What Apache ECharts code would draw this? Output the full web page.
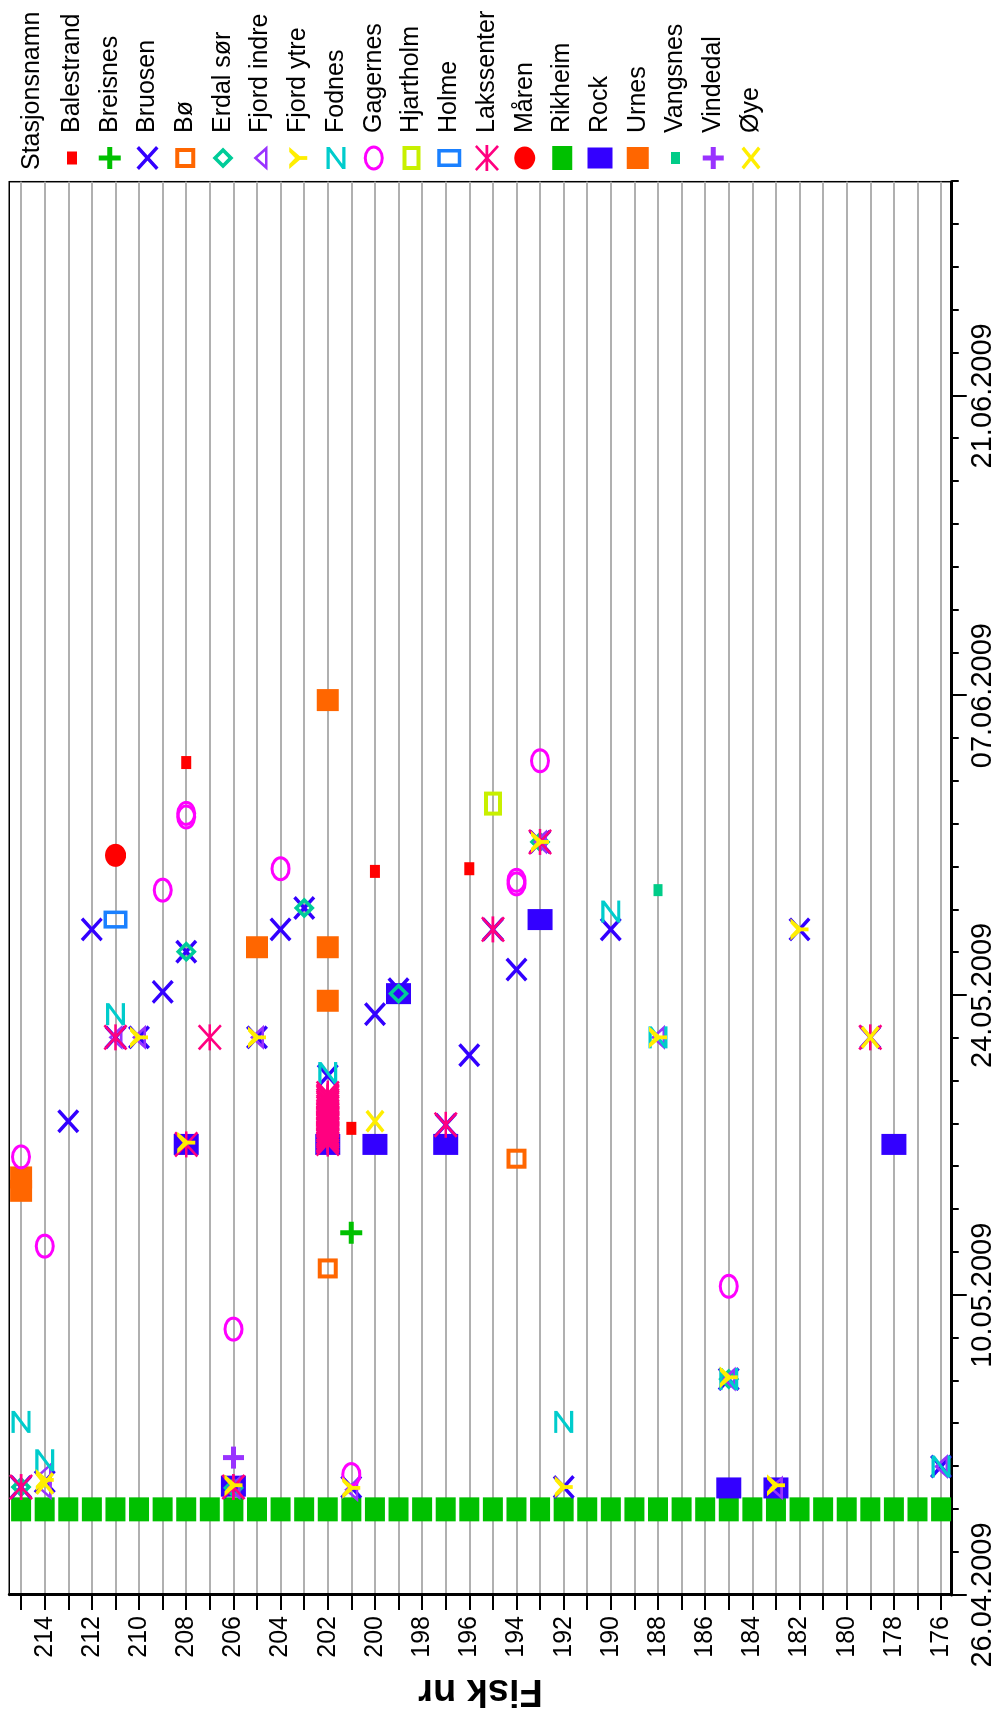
<!DOCTYPE html>
<html><head><meta charset="utf-8">
<script src="https://cdn.jsdelivr.net/npm/echarts@6/dist/echarts.min.js"></script>
<style>
html,body{margin:0;padding:0;background:#fff;overflow:hidden;width:1004px;height:1717px;}
#chart{position:absolute;left:0;top:0;width:1717px;height:1004px;transform-origin:0 0;transform:translateY(1717px) rotate(-90deg);background:#fff;}
</style></head><body><div id="chart"></div>
<script>
// ---------- DATA ----------
const stations = ['Balestrand','Breisnes','Bruosen','Bø','Erdal sør','Fjord indre','Fjord ytre','Fodnes','Gagernes','Hjartholm','Holme','Lakssenter','Måren','Rikheim','Rock','Urnes','Vangsnes','Vindedal','Øye'];
const dateTickLabels = ['2009-04-26 00:00','2009-05-10 00:00','2009-05-24 00:00','2009-06-07 00:00','2009-06-21 00:00'];
const dateMin = '2009-04-26 00:00';
const dateMax = '2009-07-01 00:00';
const fishTickLabels = [176,178,180,182,184,186,188,190,192,194,196,198,200,202,204,206,208,210,212,214];
const fishTicks = [176,177,178,179,180,181,182,183,184,185,186,187,188,189,190,191,192,193,194,195,196,197,198,199,200,201,202,203,204,205,206,207,208,209,210,211,212,213,214,215];

const balestrand = [['2009-06-03 21:00',208],['2009-05-29 19:00',200],['2009-05-29 22:00',196],['2009-05-17 19:00',201]];
const breisnes = [['2009-05-12 22:00',201]];
const bruosen = [['2009-05-01 01:00',215],['2009-05-01 07:00',214],['2009-05-01 01:00',206],['2009-05-01 01:00',201],['2009-05-01 01:00',192],['2009-05-02 00:00',176],['2009-05-06 02:00',185],
 ['2009-05-18 03:00',213],['2009-05-20 06:00',202],['2009-05-23 03:00',200],['2009-05-24 07:00',199],['2009-05-17 23:00',197],['2009-05-21 05:00',196],['2009-05-25 05:00',194],
 ['2009-05-22 01:00',179],['2009-05-22 01:00',211],['2009-05-22 01:00',210],['2009-05-22 01:00',205],['2009-05-24 04:00',209],['2009-05-26 01:00',208],['2009-05-28 02:00',203],
 ['2009-05-27 02:00',212],['2009-05-27 02:00',204],['2009-05-27 02:00',195],['2009-05-27 02:00',190],['2009-05-27 02:00',182],['2009-05-31 04:00',193]];
const bo = [['2009-05-11 06:00',202],['2009-05-16 09:00',194]];
const erdalSor = [['2009-05-01 01:00',215],['2009-05-01 00:00',206],['2009-05-06 02:00',185],['2009-05-26 01:00',208],['2009-05-28 02:00',203],['2009-05-24 02:00',199],['2009-05-31 04:00',193]];
const fjordIndre = [['2009-05-01 00:00',214],['2009-05-01 15:00',214],['2009-05-01 00:00',206],['2009-04-30 22:00',201],['2009-05-01 00:00',183],['2009-05-02 00:00',176],['2009-05-06 02:00',185],
 ['2009-05-22 01:00',211],['2009-05-22 01:00',210],['2009-05-22 01:00',205],['2009-05-22 01:00',188],['2009-05-31 04:00',193]];
const fjordYtre = [['2009-05-01 09:00',214],['2009-05-01 03:00',206],['2009-05-01 00:00',201],['2009-05-01 01:00',192],['2009-05-01 03:00',183],['2009-05-06 04:00',185],
 ['2009-05-22 01:00',210],['2009-05-22 01:00',205],['2009-05-22 01:00',188],['2009-05-17 03:00',208],['2009-05-31 04:00',193],['2009-05-27 02:00',182]];
const fodnes = [['2009-05-04 02:00',215],['2009-05-02 07:00',214],['2009-05-04 02:00',192],['2009-05-02 00:00',176],['2009-05-23 03:00',211],['2009-05-20 09:00',202],['2009-05-27 22:00',190],['2009-05-22 01:00',188],['2009-05-06 02:00',185]];
const gagernes = [['2009-05-16 11:00',215],['2009-05-12 07:00',214],['2009-05-08 10:00',206],['2009-05-10 10:00',185],['2009-05-01 15:00',201],['2009-06-01 08:00',208],['2009-06-01 12:00',208],
 ['2009-05-28 22:00',209],['2009-05-29 22:00',204],['2009-05-29 05:00',194],['2009-05-29 09:00',194],['2009-06-03 23:00',193]];
const hjartholm = [['2009-06-01 23:00',195]];
const holme = [['2009-05-27 13:00',211]];
const lakssenter = [['2009-05-01 01:00',215],['2009-05-01 01:00',206],['2009-05-17 01:00',208],['2009-05-17 23:00',197],['2009-05-22 01:00',211],['2009-05-22 01:00',207],['2009-05-22 01:00',179],['2009-05-27 02:00',195],['2009-05-31 04:00',193],
 ['2009-05-17 02:00',202],['2009-05-17 05:00',202],['2009-05-17 07:00',202],['2009-05-17 10:00',202],['2009-05-17 12:00',202],['2009-05-17 14:00',202],['2009-05-17 17:00',202],['2009-05-17 19:00',202],['2009-05-17 22:00',202],
 ['2009-05-18 00:00',202],['2009-05-18 02:00',202],['2009-05-18 05:00',202],['2009-05-18 07:00',202],['2009-05-18 10:00',202],['2009-05-18 12:00',202],['2009-05-18 14:00',202],['2009-05-18 17:00',202],
 ['2009-05-18 19:00',202],['2009-05-18 22:00',202],['2009-05-19 00:00',202],['2009-05-19 02:00',202],['2009-05-19 05:00',202],['2009-05-19 07:00',202],['2009-05-19 10:00',202]];
const maren = [['2009-05-30 13:00',211]];
const rikheimDate = '2009-04-30 00:00';
const rikheimFish = [215,214,213,212,211,210,209,208,207,206,205,204,203,202,201,200,199,198,197,196,195,194,193,192,191,190,189,188,187,186,185,184,183,182,181,180,179,178,177,176];
const rock = [['2009-05-01 02:00',206],['2009-05-01 00:00',185],['2009-05-01 00:00',183],['2009-05-17 01:00',208],['2009-05-17 01:00',202],['2009-05-17 01:00',200],['2009-05-17 01:00',197],['2009-05-17 01:00',178],['2009-05-24 02:00',199],['2009-05-27 13:00',193]];
const urnes = [['2009-05-14 21:00',215],['2009-05-15 12:00',215],['2009-05-23 18:00',202],['2009-05-26 06:00',205],['2009-05-26 06:00',202],['2009-06-06 19:00',202]];
const vangsnes = [['2009-05-28 22:00',188]];
const vindedal = [['2009-05-02 10:00',206]];
const oye = [['2009-05-18 03:00',200],['2009-05-22 01:00',179],['2009-05-01 05:00',214]];

const stationData = {
  'Balestrand': balestrand, 'Breisnes': breisnes, 'Bruosen': bruosen, 'Bø': bo, 'Erdal sør': erdalSor,
  'Fjord indre': fjordIndre, 'Fjord ytre': fjordYtre, 'Fodnes': fodnes, 'Gagernes': gagernes, 'Hjartholm': hjartholm,
  'Holme': holme, 'Lakssenter': lakssenter, 'Måren': maren, 'Rikheim': rikheimFish.map(f => [rikheimDate, f]),
  'Rock': rock, 'Urnes': urnes, 'Vangsnes': vangsnes, 'Vindedal': vindedal, 'Øye': oye
};

// ---------- helpers ----------
function parseD(s){ return Date.UTC(+s.slice(0,4), +s.slice(5,7)-1, +s.slice(8,10), +s.slice(11,13), +s.slice(14,16)); }
const BASE = parseD(dateMin);
function toDay(s){ return (parseD(s) - BASE) / 86400000; }
function fmtDay(v){ const d = new Date(BASE + Math.round(v*86400000)); const p = n => String(n).padStart(2,'0'); return p(d.getUTCDate())+'.'+p(d.getUTCMonth()+1)+'.'+d.getUTCFullYear(); }

// ---------- symbol shapes (style) ----------
const f = n => Math.round(n*100)/100;
function rectP(x,y,w,h){ return `M${f(x)} ${f(y)}H${f(x+w)}V${f(y+h)}H${f(x)}Z`; }
function ringRect(x,y,w,h,t){ return rectP(x,y,w,h) + `M${f(x+t)} ${f(y+t)}V${f(y+h-t)}H${f(x+w-t)}V${f(y+t)}Z`; }
function ell(x,y,w,h,inv){ const rx=w/2, ry=h/2, cx=x+rx, cy=y+ry, s = inv?1:0;
  return `M${f(cx-rx)} ${f(cy)}A${f(rx)} ${f(ry)} 0 1 ${s} ${f(cx+rx)} ${f(cy)}A${f(rx)} ${f(ry)} 0 1 ${s} ${f(cx-rx)} ${f(cy)}Z`; }
function ringEll(x,y,w,h,t){ return ell(x,y,w,h,false) + ell(x+t,y+t,w-2*t,h-2*t,true); }
function diamond(x,y,w,h,t){ const cx=x+w/2, cy=y+h/2, k=t*1.45;
  return `M${f(cx)} ${f(y)}L${f(x+w)} ${f(cy)}L${f(cx)} ${f(y+h)}L${f(x)} ${f(cy)}Z` +
         `M${f(cx)} ${f(y+k)}L${f(x+k)} ${f(cy)}L${f(cx)} ${f(y+h-k)}L${f(x+w-k)} ${f(cy)}Z`; }
function tri(x,y,w,h,t){ const cx=x+w/2; const B=w/2, H=h;
  const th = Math.atan(B/H); const a = t/Math.sin(th); const phi = Math.atan(H/B); const b = t/Math.tan(phi/2);
  return `M${f(cx)} ${f(y)}L${f(x+w)} ${f(y+h)}L${f(x)} ${f(y+h)}Z` +
         `M${f(cx)} ${f(y+a)}L${f(x+b)} ${f(y+h-t)}L${f(x+w-b)} ${f(y+h-t)}Z`; }
function xs(x,y,w,h,t){ const d=t/1.414;
  return `M${f(x)} ${f(y+d)}L${f(x+d)} ${f(y)}L${f(x+w)} ${f(y+h-d)}L${f(x+w-d)} ${f(y+h)}Z` +
         `M${f(x+w-d)} ${f(y)}L${f(x+w)} ${f(y+d)}L${f(x+d)} ${f(y+h)}L${f(x)} ${f(y+h-d)}Z`; }
function plus(x,y,w,h,t){ const cx=x+w/2, cy=y+h/2, s=t/2;
  return `M${f(cx-s)} ${f(y)}H${f(cx+s)}V${f(cy-s)}H${f(x+w)}V${f(cy+s)}H${f(cx+s)}V${f(y+h)}H${f(cx-s)}V${f(cy+s)}H${f(x)}V${f(cy-s)}H${f(cx-s)}Z`; }
function ast(x,y,w,h,t){ const cy=y+h/2; return xs(x,y,w,h,t) + `M${f(x)} ${f(cy-t/2)}H${f(x+w)}V${f(cy+t/2)}H${f(x)}Z`; }
function yshape(x,y,w,h,t){ const cx=x+w/2, jy=y+h*0.5, a=t*1.3, s=t/2;
  return `M${f(x)} ${f(y)}L${f(x+a)} ${f(y)}L${f(cx)} ${f(jy-t*0.9)}L${f(x+w-a)} ${f(y)}L${f(x+w)} ${f(y)}L${f(cx+s)} ${f(jy+t*0.4)}L${f(cx+s)} ${f(y+h)}L${f(cx-s)} ${f(y+h)}L${f(cx-s)} ${f(jy+t*0.4)}Z`; }
function zshape(x,y,w,h,t){ const k=t*1.6;
  return `M${f(x)} ${f(y)}H${f(x+w)}V${f(y+t)}L${f(x+k)} ${f(y+h-t)}H${f(x+w)}V${f(y+h)}H${f(x)}V${f(y+h-t)}L${f(x+w-k)} ${f(y+t)}H${f(x)}Z`; }
const GEN = { rect:(x,y,w,h)=>rectP(x,y,w,h), ringRect, ringEll, ell:(x,y,w,h)=>ell(x,y,w,h,false), diamond, tri, x:xs, plus, ast, y:yshape, z:zshape };

const SYM = {
 'Balestrand': {c:'#ff0000', w:13, h:10, s:'rect'},
 'Breisnes':   {c:'#00c000', w:22, h:22, s:'plus', t:5},
 'Bruosen':    {c:'#3300ff', w:24, h:22, s:'x', t:3.5},
 'Bø':         {c:'#ff6600', w:20, h:20, s:'ringRect', t:4},
 'Erdal sør':  {c:'#00cc99', w:21, h:21, s:'diamond', t:3.5},
 'Fjord indre':{c:'#9933ff', w:25, h:14, s:'tri', t:2.6},
 'Fjord ytre': {c:'#ffee00', w:22, h:18, s:'y', t:3.8},
 'Fodnes':     {c:'#00cccc', w:22, h:19, s:'z', t:3.2},
 'Gagernes':   {c:'#ff00ff', w:25, h:20, s:'ringEll', t:3},
 'Hjartholm':  {c:'#c8f000', w:24, h:18, s:'ringRect', t:4},
 'Holme':      {c:'#1a80ff', w:18, h:24, s:'ringRect', t:3.5},
 'Lakssenter': {c:'#ff0080', w:26, h:24, s:'ast', t:2.6},
 'Måren':      {c:'#ff0000', w:23, h:21, s:'ell'},
 'Rikheim':    {c:'#00c000', w:24, h:20, s:'rect'},
 'Rock':       {c:'#3300ff', w:21, h:25, s:'rect'},
 'Urnes':      {c:'#ff6600', w:22, h:22, s:'rect'},
 'Vangsnes':   {c:'#00cc88', w:12, h:9, s:'rect'},
 'Vindedal':   {c:'#9933ff', w:22, h:21, s:'plus', t:5},
 'Øye':        {c:'#ffee00', w:23, h:19, s:'x', t:3.5}
};
// stacking (bottom -> top)
const drawOrder = ['Rikheim','Urnes','Rock','Bruosen','Balestrand','Breisnes','Bø','Erdal sør','Fjord indre','Fodnes','Gagernes','Hjartholm','Holme','Lakssenter','Måren','Vangsnes','Vindedal','Øye','Fjord ytre'];

const FONT = '"Liberation Sans", Arial, sans-serif';
const LW = 33, LH = 26;

const series = stations.map(name => {
  const s = SYM[name];
  return {
    type: 'scatter', name,
    data: stationData[name].map(([d, fish]) => [toDay(d), fish]),
    symbol: 'path://' + GEN[s.s](0, 0, s.w, s.h, s.t),
    symbolSize: [s.w, s.h],
    itemStyle: { color: s.c, opacity: 1 },
    z: 3 + drawOrder.indexOf(name),
    emphasis: { disabled: true }, silent: true, animation: false
  };
});

const legendData = stations.map(name => {
  const s = SYM[name];
  return { name, icon: 'path://M0 0L0 0ZM' + LW + ' ' + LH + 'L' + LW + ' ' + LH + 'Z' + GEN[s.s](13 - s.w/2, 13 - s.h/2, s.w, s.h, s.t) };
});

const minorDays = [];
for (let d = 0; d <= toDay(dateMax); d += 2) minorDays.push(d);
const majorDays = dateTickLabels.map(toDay);

const chart = echarts.init(document.getElementById('chart'), null, { renderer: 'canvas' });
chart.setOption({
  animation: false,
  backgroundColor: '#fff',
  title: { text: 'Stasjonsnamn', left: 1547, top: 20, padding: 0,
    textStyle: { fontFamily: FONT, fontSize: 25, fontWeight: 'normal', color: '#000' } },
  legend: { orient: 'vertical', left: 1546, top: 59, padding: 0, itemWidth: LW, itemHeight: LH, itemGap: 11.72,
    selectedMode: false, data: legendData,
    textStyle: { fontFamily: FONT, fontSize: 25, color: '#000', lineHeight: 26 } },
  grid: { left: 121.4, right: 181.7, top: 9.3, bottom: 52.3, show: true, borderColor: '#000', borderWidth: 1.5, containLabel: false },
  xAxis: [
    { type: 'value', min: toDay(dateMin), max: toDay(dateMax), position: 'bottom',
      axisLine: { show: true, onZero: false, lineStyle: { color: '#000', width: 3 } },
      axisTick: { show: true, length: 15, lineStyle: { color: '#000', width: 2 }, customValues: majorDays },
      axisLabel: { customValues: majorDays, formatter: fmtDay, fontFamily: FONT, fontSize: 29, color: '#000', margin: 17, showMinLabel: true, showMaxLabel: true },
      splitLine: { show: false } },
    { type: 'value', min: toDay(dateMin), max: toDay(dateMax), position: 'bottom',
      axisLine: { show: false },
      axisTick: { show: true, length: 7, lineStyle: { color: '#000', width: 2 }, customValues: minorDays },
      axisLabel: { show: false }, splitLine: { show: false } }
  ],
  yAxis: { type: 'value', min: 175.55, max: 215.5,
    axisLine: { show: true, onZero: false, lineStyle: { color: '#000', width: 3 } },
    axisTick: { show: true, length: 15, lineStyle: { color: '#000', width: 2 }, customValues: fishTicks },
    axisLabel: { customValues: fishTickLabels, fontFamily: FONT, fontSize: 25, color: '#000', margin: 21 },
    splitLine: { show: true, lineStyle: { color: '#b0b0b0', width: 2 } },
    name: 'Fisk nr', nameLocation: 'middle', nameGap: 76,
    nameTextStyle: { fontFamily: FONT, fontSize: 38, fontWeight: 'bold', color: '#000' } },
  series
});
</script></body></html>
